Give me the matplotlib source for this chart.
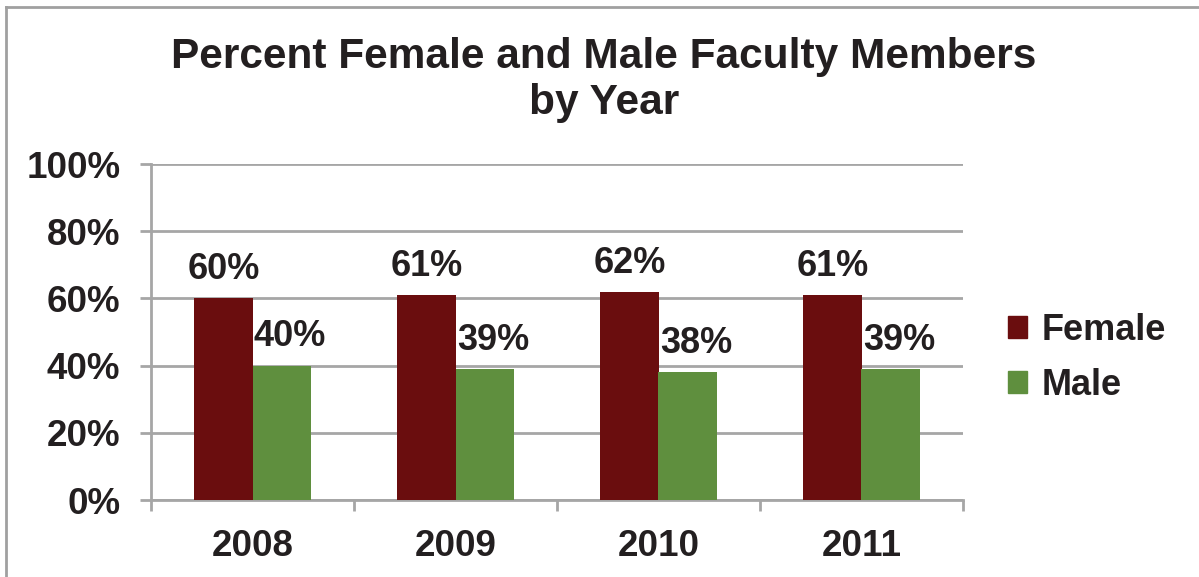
import matplotlib.pyplot as plt
from matplotlib.patches import Patch
from matplotlib.lines import Line2D
import numpy as np

# data
years = ['2008', '2009', '2010', '2011']
female = [60, 61, 62, 61]
male = [40, 39, 38, 39]

female_color = '#6A0D0E'
male_color = '#5F8F3E'
text_color = '#231F20'
grid_color = '#A6A6A6'

plt.rcParams['font.family'] = ['Liberation Sans', 'DejaVu Sans']
plt.rcParams['font.weight'] = 'bold'

fig = plt.figure(figsize=(11.99, 5.77), dpi=100)
ax = fig.add_axes([151 / 1199, 77 / 577, 812 / 1199, 336 / 577])

x = np.arange(len(years))
w = 0.286
b1 = ax.bar(x - w / 2, female, w, color=female_color, zorder=3)
b2 = ax.bar(x + w / 2, male, w, color=male_color, zorder=3)

# value labels
for rect, v in zip(b1, female):
    ax.annotate(f'{v}%', (rect.get_x() + rect.get_width() / 2, v),
                xytext=(0, 8), textcoords='offset points',
                ha='center', va='bottom', fontsize=26, fontweight='bold', color=text_color)
for rect, v in zip(b2, male):
    ax.annotate(f'{v}%', (rect.get_x() + rect.get_width() / 2, v),
                xytext=(6, 8), textcoords='offset points',
                ha='center', va='bottom', fontsize=26, fontweight='bold', color=text_color)

ax.set_xlim(-0.5, len(years) - 0.5)
ax.set_ylim(0, 100)
ax.set_yticks(range(0, 101, 20))
ax.set_yticklabels([f'{t}%' for t in range(0, 101, 20)])
ax.yaxis.grid(True, color=grid_color, linewidth=2, zorder=0)

# x ticks between categories, labels in the middle
ax.set_xticks(np.arange(-0.5, len(years), 1))
ax.set_xticklabels([])
ax.set_xticks(x, minor=True)
ax.set_xticklabels(years, minor=True)
ax.tick_params(axis='x', which='major', direction='out', length=8, width=2, color=grid_color)
ax.tick_params(axis='x', which='minor', length=0, pad=21)
ax.tick_params(axis='y', direction='out', length=8, width=2, color=grid_color, pad=14)
for lab in ax.get_xticklabels(minor=True) + ax.get_yticklabels():
    lab.set_fontsize(26.5)
    lab.set_fontweight('bold')
    lab.set_color(text_color)

for s in ['top', 'right']:
    ax.spines[s].set_visible(False)
for s in ['left', 'bottom']:
    ax.spines[s].set_color(grid_color)
    ax.spines[s].set_linewidth(2)

fig.suptitle('Percent Female and Male Faculty Members\nby Year', x=604 / 1199, y=1 - 37 / 577,
             va='top', fontsize=30.5, fontweight='bold', color=text_color, linespacing=1.2)

handles = [Patch(color=female_color, label='Female'), Patch(color=male_color, label='Male')]
fig.legend(handles=handles, loc='center left', bbox_to_anchor=(975 / 1199, 1 - 358 / 577),
           frameon=False, handlelength=0.55, handleheight=0.55,
           handletextpad=0.4, labelspacing=0.55, labelcolor=text_color,
           prop={'weight': 'bold', 'size': 26})

# chart border (top and left only visible)
fig.add_artist(Line2D([6 / 1199, 1], [1 - 7 / 577] * 2, color='#A0A0A0', linewidth=2))
fig.add_artist(Line2D([6 / 1199] * 2, [0, 1 - 7 / 577], color='#A0A0A0', linewidth=2))

plt.savefig('out.png', dpi=100)
